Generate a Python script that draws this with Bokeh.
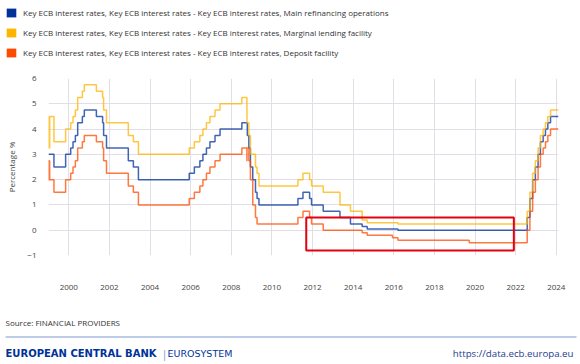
import pandas as pd
from bokeh.plotting import figure
from bokeh.layouts import column
from bokeh.models import (Range1d, Legend, LegendItem, BoxAnnotation,
                          FixedTicker, DatetimeTickFormatter)
from bokeh.core.properties import value
from bokeh.embed import file_html
from bokeh.resources import INLINE

# ---- data: key ECB interest rates (%), value in force from each date ----
dates = [
    "1999-01-01", "1999-01-04", "1999-01-22", "1999-04-09", "1999-11-05",
    "2000-02-04", "2000-03-17", "2000-04-28", "2000-06-09", "2000-09-01",
    "2000-10-06", "2001-05-11", "2001-08-31", "2001-09-18", "2001-11-09",
    "2002-12-06", "2003-03-07", "2003-06-06", "2005-12-06", "2006-03-08",
    "2006-06-15", "2006-08-09", "2006-10-11", "2006-12-13", "2007-03-14",
    "2007-06-13", "2008-07-09", "2008-10-08", "2008-10-09", "2008-10-15",
    "2008-11-12", "2008-12-10", "2009-01-21", "2009-03-11", "2009-04-08",
    "2009-05-13", "2011-04-13", "2011-07-13", "2011-11-09", "2011-12-14",
    "2012-07-11", "2013-05-08", "2013-11-13", "2014-06-11", "2014-09-10",
    "2015-12-09", "2016-03-16", "2019-09-18", "2022-07-27", "2022-09-14",
    "2022-11-02", "2022-12-21", "2023-02-08", "2023-03-22", "2023-05-10",
    "2023-06-21", "2023-08-02", "2023-09-20", "2024-02-10",
]
main_refi = [
    3.00, 3.00, 3.00, 2.50, 3.00,
    3.25, 3.50, 3.75, 4.25, 4.50,
    4.75, 4.50, 4.25, 3.75, 3.25,
    2.75, 2.50, 2.00, 2.25, 2.50,
    2.75, 3.00, 3.25, 3.50, 3.75,
    4.00, 4.25, 4.25, 4.25, 3.75,
    3.25, 2.50, 2.00, 1.50, 1.25,
    1.00, 1.25, 1.50, 1.25, 1.00,
    0.75, 0.50, 0.25, 0.15, 0.05,
    0.05, 0.00, 0.00, 0.50, 1.25,
    2.00, 2.50, 3.00, 3.50, 3.75,
    4.00, 4.25, 4.50, 4.50,
]
marginal = [
    4.50, 3.25, 4.50, 3.50, 4.00,
    4.25, 4.50, 4.75, 5.25, 5.50,
    5.75, 5.50, 5.25, 4.75, 4.25,
    3.75, 3.50, 3.00, 3.25, 3.50,
    3.75, 4.00, 4.25, 4.50, 4.75,
    5.00, 5.25, 4.75, 4.25, 4.25,
    3.75, 3.00, 3.00, 2.50, 2.25,
    1.75, 2.00, 2.25, 2.00, 1.75,
    1.50, 1.00, 0.75, 0.40, 0.30,
    0.30, 0.25, 0.25, 0.75, 1.50,
    2.25, 2.75, 3.25, 3.75, 4.00,
    4.25, 4.50, 4.75, 4.75,
]
deposit = [
    2.00, 2.75, 2.00, 1.50, 2.00,
    2.25, 2.50, 2.75, 3.25, 3.50,
    3.75, 3.50, 3.25, 2.75, 2.25,
    1.75, 1.50, 1.00, 1.25, 1.50,
    1.75, 2.00, 2.25, 2.50, 2.75,
    3.00, 3.25, 2.75, 3.25, 3.25,
    2.75, 2.00, 1.00, 0.50, 0.25,
    0.25, 0.50, 0.75, 0.50, 0.25,
    0.00, 0.00, 0.00, -0.10, -0.20,
    -0.30, -0.40, -0.50, 0.00, 0.75,
    1.50, 2.00, 2.50, 3.00, 3.25,
    3.50, 3.75, 4.00, 4.00,
]
series_labels = [
    "Key ECB interest rates, Key ECB interest rates - Key ECB interest rates, Main refinancing operations",
    "Key ECB interest rates, Key ECB interest rates - Key ECB interest rates, Marginal lending facility",
    "Key ECB interest rates, Key ECB interest rates - Key ECB interest rates, Deposit facility",
]
series_colors = ["#003299", "#FFB400", "#FF4B00"]
x_tick_years = list(range(2000, 2025, 2))
y_ticks = list(range(-1, 7))
x_start, x_end = "1999-01-01", "2024-02-10"
highlight = dict(left="2011-09-10", right="2021-11-29", bottom=-0.8, top=0.5)
source_text = "Source: FINANCIAL PROVIDERS"
footer_left = "EUROPEAN CENTRAL BANK"
footer_mid = "EUROSYSTEM"
footer_url = "https://data.ecb.europa.eu"

FONT = "Open Sans"
W = 580
NAN = float("nan")


def ms(d):
    return pd.Timestamp(d).value / 1e6


def no_align(f):
    try:
        f.frame_align = False
    except Exception:
        pass


def blank(height, top_border=0, left_border=0):
    f = figure(width=W, height=height, x_range=Range1d(0, W - left_border),
               y_range=Range1d(height - top_border, 0),
               output_backend="svg", toolbar_location=None,
               x_axis_location=None, y_axis_location=None,
               min_border=0, min_border_left=left_border, min_border_right=0,
               min_border_top=top_border, min_border_bottom=0)
    f.grid.visible = False
    f.outline_line_color = None
    f.border_fill_color = "white"
    f.background_fill_color = "white"
    no_align(f)
    return f


# ---------- top: legend ----------
top = blank(68, top_border=7, left_border=5)
items = []
for lab, col in zip(series_labels, series_colors):
    r = top.quad(left=[NAN], right=[NAN], top=[NAN], bottom=[NAN],
                 fill_color=col, line_color=None)
    items.append(LegendItem(label=lab, renderers=[r]))
legend = Legend(items=items, location="top_left", orientation="vertical",
                glyph_width=12, glyph_height=11, label_height=11, label_standoff=6,
                spacing=9, padding=0, margin=0, border_line_color=None,
                background_fill_alpha=0, label_text_font=FONT,
                label_text_font_size="8px", label_text_color="#333333")
top.add_layout(legend)

# ---------- main chart ----------
x = [ms(d) for d in dates]
p = figure(width=W, height=240, x_axis_type="datetime",
           x_range=Range1d(ms(x_start), ms(x_end)), y_range=Range1d(-1, 6),
           output_backend="svg", toolbar_location=None,
           min_border_left=48, min_border_right=22,
           min_border_top=10, min_border_bottom=53)
no_align(p)
p.outline_line_color = None
p.background_fill_color = "white"
p.border_fill_color = "white"
for g in (p.xgrid, p.ygrid):
    g.grid_line_color = "#e2dee8"
    g.grid_line_width = 1
p.xaxis.ticker = FixedTicker(ticks=[ms(f"{y}-01-01") for y in x_tick_years])
p.yaxis.ticker = FixedTicker(ticks=y_ticks)
p.xaxis.formatter = DatetimeTickFormatter(years="%Y", months="%Y", days="%Y")
for ax in (p.xaxis, p.yaxis):
    ax.axis_line_color = None
    ax.major_tick_line_color = None
    ax.minor_tick_line_color = None
    ax.major_label_text_font = FONT
    ax.major_label_text_font_size = "8px"
    ax.major_label_text_color = "#444444"
p.xaxis.major_label_standoff = 23
p.yaxis.major_label_standoff = 6
p.yaxis.axis_label = "Percentage %"
p.yaxis.axis_label_text_font = FONT
p.yaxis.axis_label_text_font_size = "8px"
p.yaxis.axis_label_text_font_style = "normal"
p.yaxis.axis_label_text_color = "#444444"
p.yaxis.axis_label_standoff = 7

for vals, col in zip([main_refi, marginal, deposit], series_colors):
    p.step(x, vals, mode="after", line_color=col, line_width=1.5, line_alpha=0.75)

p.add_layout(BoxAnnotation(left=ms(highlight["left"]), right=ms(highlight["right"]),
                           bottom=highlight["bottom"], top=highlight["top"],
                           fill_alpha=0, line_color="#E3000F", line_alpha=1, line_width=2))

# ---------- footer ----------
foot = blank(56)
foot.text(x=[5], y=[14], text=[source_text], text_font=value(FONT),
          text_font_size="8px", text_color="#333333", text_baseline="middle")
foot.segment(x0=[5], y0=[28.5], x1=[576], y1=[28.5], line_color="#7f99d2", line_width=1)
foot.text(x=[5], y=[44.5], text=[footer_left], text_font=value("DejaVu Sans"),
          text_font_style="bold", text_font_size="10px", text_color="#003299",
          text_baseline="middle")
foot.text(x=[161], y=[44.5], text=["|"], text_font=value(FONT), text_font_size="11px",
          text_color="#7f99d2", text_baseline="middle")
foot.text(x=[167], y=[44.5], text=[footer_mid], text_font=value("DejaVu Sans"),
          text_font_size="9.5px", text_color="#003299", text_baseline="middle")
foot.text(x=[573], y=[44.5], text=[footer_url], text_font=value(FONT),
          text_font_size="9.7px", text_color="#1d3c8f", text_align="right",
          text_baseline="middle")

layout = column(top, p, foot, spacing=0)
open("out.html", "w").write(file_html(layout, INLINE))
